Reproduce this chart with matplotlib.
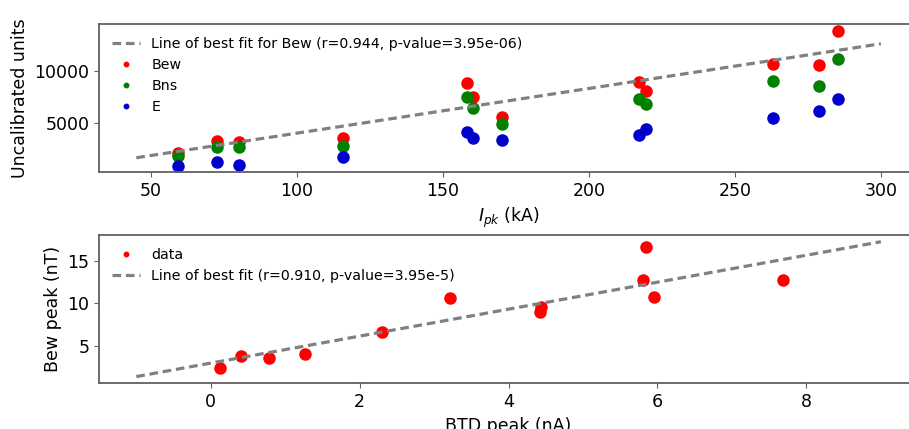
import matplotlib
matplotlib.use('Agg')
import matplotlib.pyplot as plt

# Peak current (kA) and uncalibrated sensor amplitudes
ipk = [59.4, 72.7, 80.0, 115.9, 158.1, 160.3, 170.1, 217.0, 219.5, 263.1, 278.9, 285.2]
bew = [2115, 3210, 3115, 3500, 8885, 7500, 5580, 8980, 8050, 10670, 10615, 13850]
bns = [1800, 2690, 2635, 2760, 7540, 6440, 4940, 7280, 6830, 9080, 8560, 11190]
e_field = [865, 1250, 960, 1670, 4135, 3530, 3335, 3790, 4365, 5480, 6190, 7310]

# line of best fit for Bew, endpoints
fit1_x = [45, 300]
fit1_y = [1635, 12635]

# BTD peak (nA) vs Bew peak (nT)
btd = [0.12, 0.41, 0.78, 1.26, 2.30, 3.21, 4.42, 4.43, 5.84, 5.80, 5.95, 7.69]
bew_peak = [2.43, 3.80, 3.65, 4.12, 6.62, 10.59, 9.02, 9.55, 16.59, 12.70, 10.70, 12.74]

fit2_x = [-1, 9]
fit2_y = [1.45, 17.2]

spine_col = '#606060'

fig = plt.figure(figsize=(9.09, 4.29), dpi=100)
ax1 = fig.add_axes([0.109, 0.598, 0.901, 0.345])
ax2 = fig.add_axes([0.109, 0.1065, 0.901, 0.3457])

ax1.plot(fit1_x, fit1_y, color='gray', lw=2.3, linestyle=(0, (2.7, 1.5)), zorder=3,
         label='Line of best fit for Bew (r=0.944, p-value=3.95e-06)')
ax1.plot(ipk, bew, 'o', color='red', ms=8, label='Bew')
ax1.plot(ipk, bns, 'o', color='green', ms=8, label='Bns')
ax1.plot(ipk, e_field, 'o', color='mediumblue', ms=8, label='E')
ax1.set_yticks([5000, 10000])
ax1.set_xlabel('$I_{pk}$ (kA)', fontsize=12.5)
ax1.set_ylabel('Uncalibrated units', fontsize=12.5)
ax1.legend(loc='upper left', frameon=False, fontsize=10.2, markerscale=0.4)

ax2.plot(btd, bew_peak, 'o', color='red', ms=8, label='data')
ax2.plot(fit2_x, fit2_y, color='gray', lw=2.3, linestyle=(0, (2.7, 1.5)), zorder=3,
         label='Line of best fit (r=0.910, p-value=3.95e-5)')
ax2.set_yticks([5, 10, 15])
ax2.set_xlabel('BTD peak (nA)', fontsize=12.5)
ax2.set_ylabel('Bew peak (nT)', fontsize=12.5)
ax2.legend(loc='upper left', frameon=False, fontsize=10.2, markerscale=0.4)

for ax in (ax1, ax2):
    ax.tick_params(labelsize=12.5, color=spine_col)
    for s in ax.spines.values():
        s.set_color(spine_col)
        s.set_linewidth(1.3)

fig.savefig('out.png', dpi=100)
